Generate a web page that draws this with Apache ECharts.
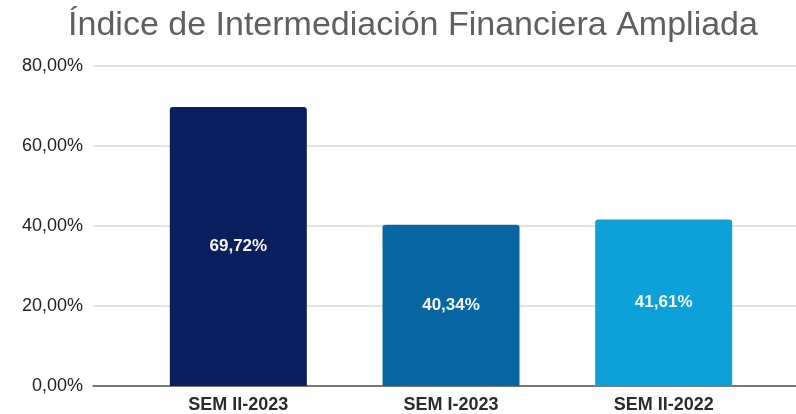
<!DOCTYPE html>
<html>
<head>
<meta charset="utf-8">
<script src="https://cdn.jsdelivr.net/npm/echarts@6/dist/echarts.min.js"></script>
<style>
  html, body { margin: 0; padding: 0; background: #fff; }
  #chart { width: 796px; height: 414px; }
</style>
</head>
<body>
<div id="chart"></div>
<script>
const categories = ['SEM II-2023', 'SEM I-2023', 'SEM II-2022'];
const values = [69.72, 40.34, 41.61];
const barColors = ['#0b1f5e', '#0867a3', '#0ea1d9'];
const yTicks = [0, 20, 40, 60, 80];

const fmt = v => v.toFixed(2).replace('.', ',') + '%';

const chart = echarts.init(document.getElementById('chart'));
chart.setOption({
  animation: false,
  title: {
    text: 'Índice de Intermediación Financiera Ampliada',
    left: 408,
    textAlign: 'center',
    top: 4,
    textStyle: { fontFamily: 'Liberation Sans', fontSize: 34, fontWeight: 'normal', color: '#5f5f5f' }
  },
  grid: [
    { left: 93, right: 0, top: 66, bottom: 28 },
    { left: 132, right: 26, top: 66, bottom: 28 }
  ],
  xAxis: [
    {
      gridIndex: 0, type: 'category', data: [''],
      axisLine: { lineStyle: { color: '#555', width: 1.5 } },
      axisTick: { show: false }, axisLabel: { show: false }
    },
    {
      gridIndex: 1, type: 'category', data: categories,
      axisLine: { show: false }, axisTick: { show: false },
      axisLabel: { margin: 10, fontFamily: 'Liberation Sans', fontSize: 18, fontWeight: 'bold', color: '#2b2b2b' }
    }
  ],
  yAxis: [
    {
      gridIndex: 0, type: 'value', min: yTicks[0], max: yTicks[yTicks.length - 1], interval: 20,
      axisLine: { show: false }, axisTick: { show: false },
      axisLabel: { margin: 10, formatter: fmt, fontFamily: 'Liberation Sans', fontSize: 18, color: '#222' },
      splitLine: { lineStyle: { color: '#d9d9d9', width: 1.5 } }
    },
    {
      gridIndex: 1, type: 'value', min: 0, max: 80, show: false, splitLine: { show: false }
    }
  ],
  series: [{
    type: 'bar',
    xAxisIndex: 1,
    yAxisIndex: 1,
    barWidth: 137,
    data: values.map((v, i) => ({ value: v, itemStyle: { color: barColors[i], borderRadius: [3, 3, 0, 0] } })),
    label: {
      show: true,
      position: 'inside',
      formatter: p => fmt(p.value),
      fontFamily: 'Liberation Sans',
      fontSize: 17,
      fontWeight: 'bold',
      color: '#f4f6fa'
    }
  }]
});
</script>
</body>
</html>
